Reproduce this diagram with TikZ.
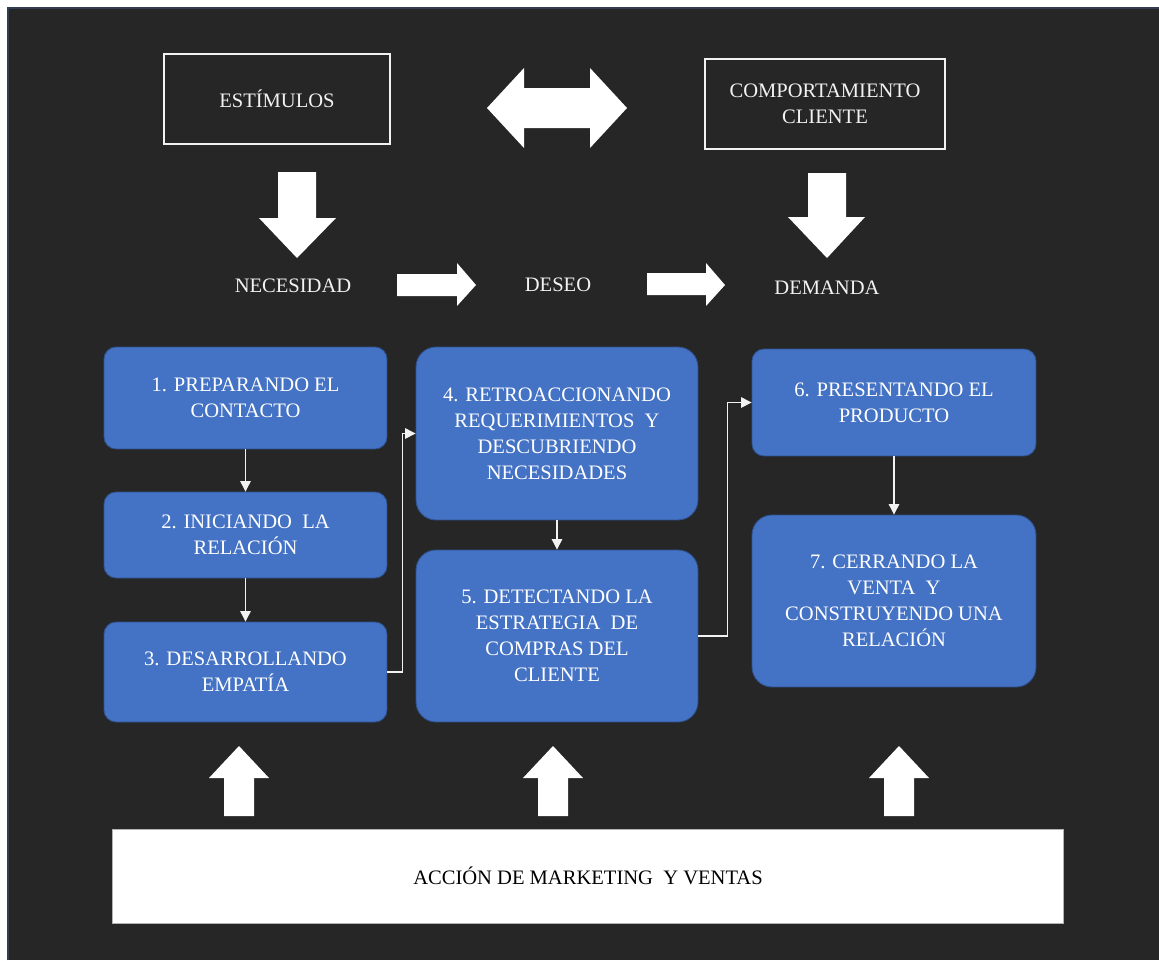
\documentclass[tikz,border=0pt]{standalone}
\usepackage{fontspec}
\setmainfont{Liberation Serif}
\newfontfamily\tnr{Liberation Serif}
\usepackage{xcolor}
\usetikzlibrary{arrows.meta}
\usetikzlibrary{positioning}
\definecolor{fondo}{HTML}{262626}
\definecolor{marco}{HTML}{333F50}
\definecolor{azulpaso}{HTML}{4472C4}
\definecolor{bordepaso}{HTML}{2F528F}
\definecolor{blanco}{HTML}{F2F2F2}

\begin{document}
\begin{tikzpicture}[x=0.02cm,y=-0.02cm,
	every node/.style={font=\tnr\fontsize{11.7}{14.8}\selectfont},
	paso/.style={draw=bordepaso, line width=0.5pt, fill=azulpaso, text=white, align=center, inner sep=0pt, rounded corners=0.24cm},
	pasogrande/.style={paso, rounded corners=0.4cm},
	marcobox/.style={draw=blanco, line width=0.9pt, text=blanco, align=center, inner sep=0pt},
	etiqueta/.style={text=blanco},
	conn/.style={draw=blanco, line width=0.6pt, -{Triangle[width=6pt,length=6pt]}}]
	\useasboundingbox (0,0) rectangle (1159,960);
	% background
	\fill[white] (0,0) rectangle (1159,960);
	\fill[fondo] (8,8) rectangle (1159,960);
	\draw[marco, line width=1pt] (8,960) -- (8,8) -- (1159,8);

	% top boxes
	\node[marcobox, minimum width=4.52cm, minimum height=1.8cm] (estimulos) at (277,99) {ESTÍMULOS};
	\node[marcobox, minimum width=4.8cm, minimum height=1.8cm] (comport) at (825,104) {COMPORTAMIENTO\\CLIENTE};
	% double arrow
	\fill[white] (487,108) -- (524,68) -- (524,88) -- (590,88) -- (590,68) -- (627,108)
		-- (590,148) -- (590,128) -- (524,128) -- (524,148) -- cycle;
	% down arrows
	\fill[white] (278,172) -- (316,172) -- (316,218) -- (336,218) -- (297,258) -- (259,218) -- (278,218) -- cycle;
	\fill[white] (808,173) -- (846,173) -- (846,217) -- (865,217) -- (827,258) -- (788,217) -- (808,217) -- cycle;

	% necesidad - deseo - demanda
	\node[etiqueta] (necesidad) at (293,286) {NECESIDAD};
	\node[etiqueta] (deseo) at (558,285) {DESEO};
	\node[etiqueta] (demanda) at (827,288) {DEMANDA};
	\fill[white] (397,274) -- (457,274) -- (457,263) -- (476,285) -- (457,306) -- (457,296) -- (397,296) -- cycle;
	\fill[white] (647,273) -- (706,273) -- (706,263) -- (725,285) -- (706,306) -- (706,295) -- (647,295) -- cycle;

	% steps
	\node[paso, minimum width=5.66cm, minimum height=2.04cm] (p1) at (245.5,398) {1. PREPARANDO EL\\CONTACTO};
	\node[paso, minimum width=5.66cm, minimum height=1.72cm] (p2) at (245.5,535) {2. INICIANDO~ LA\\RELACIÓN};
	\node[paso, minimum width=5.66cm, minimum height=2.0cm] (p3) at (245.5,672) {3. DESARROLLANDO\\EMPATÍA};
	\node[pasogrande, minimum width=5.64cm, minimum height=3.46cm] (p4) at (557,433.5) {4. RETROACCIONANDO\\REQUERIMIENTOS~ Y\\DESCUBRIENDO\\NECESIDADES};
	\node[pasogrande, minimum width=5.64cm, minimum height=3.44cm] (p5) at (557,636) {5. DETECTANDO LA\\ESTRATEGIA~ DE\\COMPRAS DEL\\CLIENTE};
	\node[paso, minimum width=5.68cm, minimum height=2.14cm] (p6) at (894,402.5) {6. PRESENTANDO EL\\PRODUCTO};
	\node[pasogrande, minimum width=5.68cm, minimum height=3.44cm] (p7) at (894,601) {7. CERRANDO LA\\VENTA~ Y\\CONSTRUYENDO UNA\\RELACIÓN};

	% connectors
	\draw[conn] (p1) -- (p2);
	\draw[conn] (p2) -- (p3);
	\draw[conn] (p3.east) -- ++(15,0) |- (p4.west);
	\draw[conn] (p4) -- (p5);
	\draw[conn] (p5.east) -- ++(29,0) |- (p6.west);
	\draw[conn] (p6) -- (p7);

	% up arrows
	\foreach \cx in {239,553,899}
		\fill[white] (\cx,746) -- (\cx+30,778) -- (\cx+15,778) -- (\cx+15,816)
			-- (\cx-15,816) -- (\cx-15,778) -- (\cx-30,778) -- cycle;

	% bottom box
	\node[fill=white, draw=gray!60, line width=0.5pt, minimum width=19.04cm, minimum height=1.88cm] (accion) at (588,876) {ACCIÓN DE MARKETING~ Y VENTAS};
\end{tikzpicture}
\end{document}
